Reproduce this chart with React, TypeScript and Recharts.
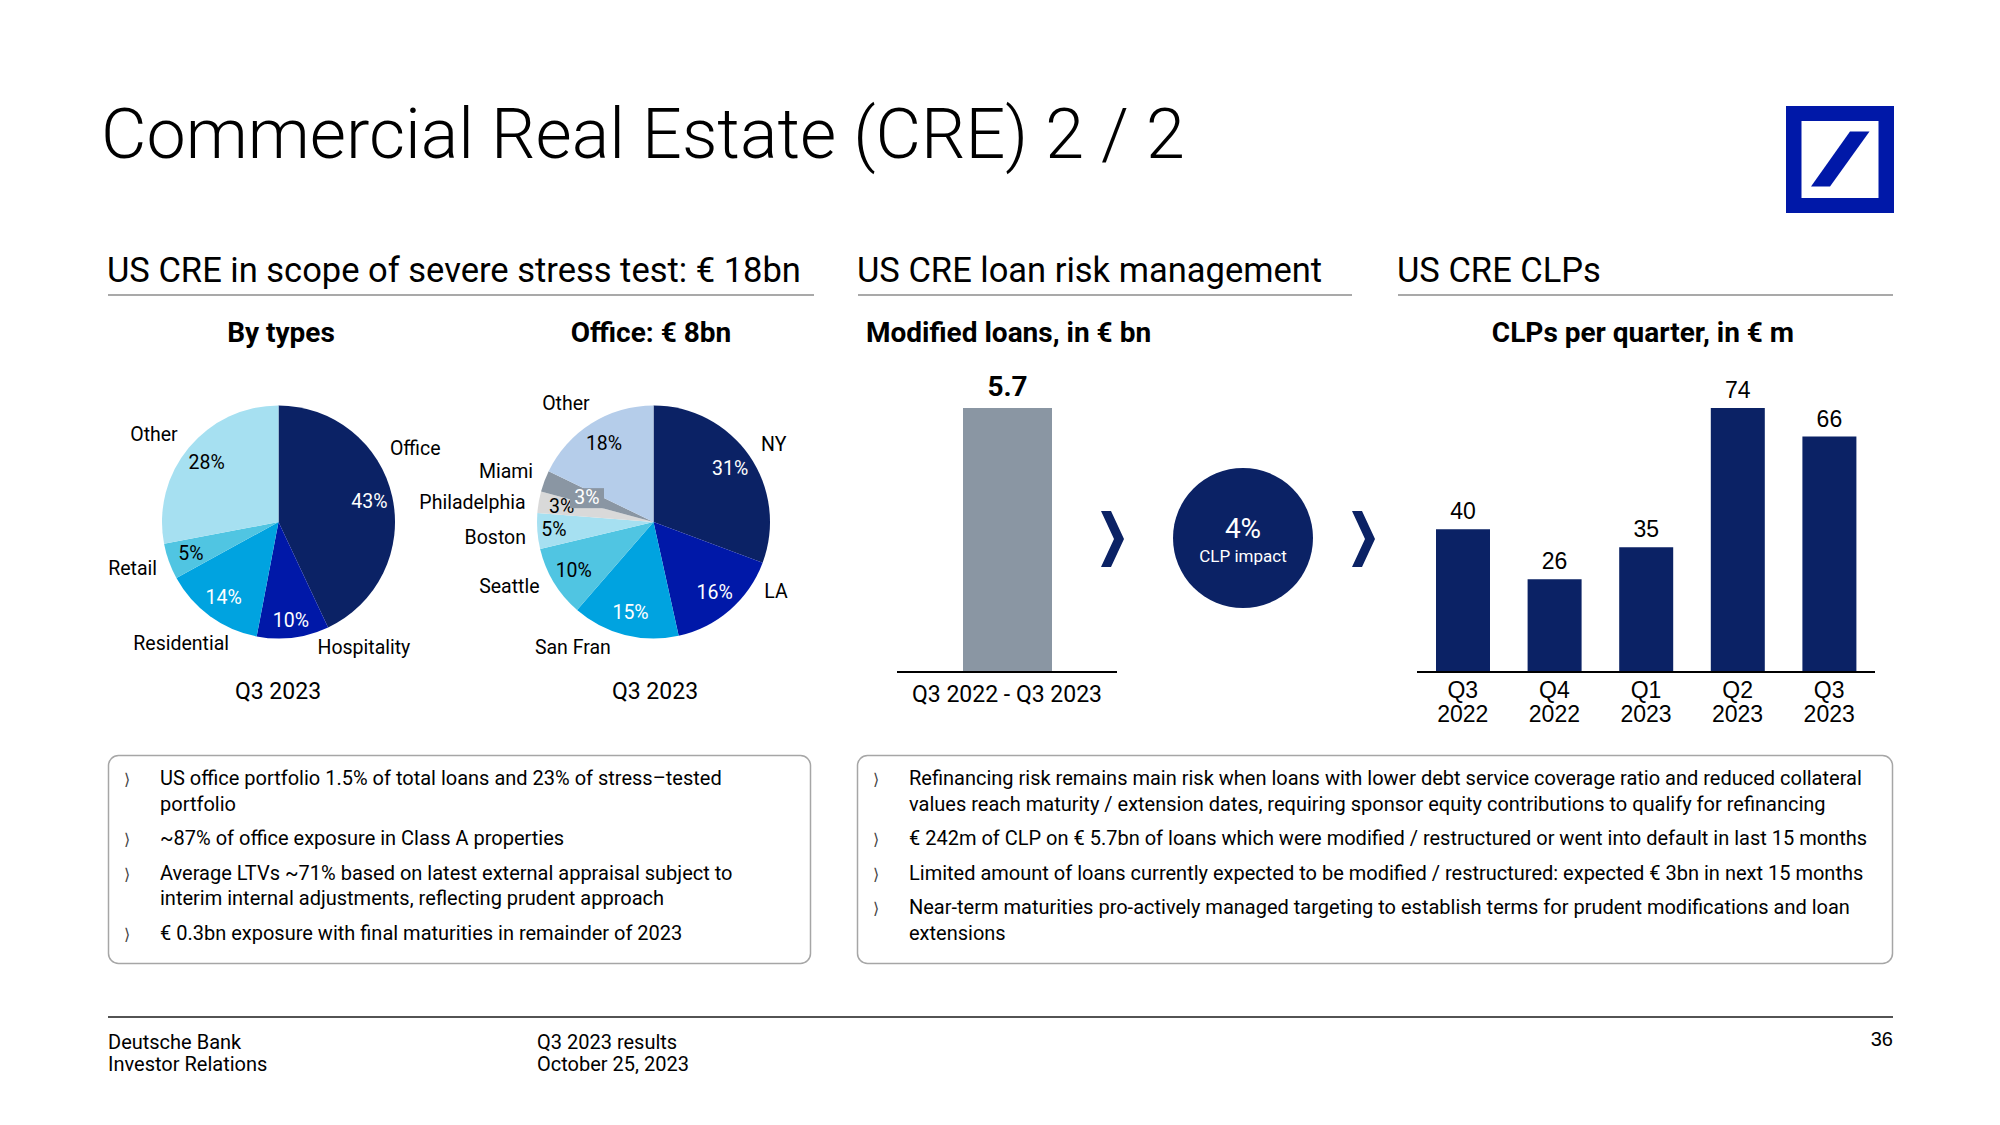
import React from "react";
import { Bar, BarChart, Cell, LabelList, Pie, PieChart, XAxis, YAxis } from "recharts";

const NAVY = "#0b2265";
const ROYAL = "#0018a8";
const SKY = "#00a3e0";
const TEAL = "#50c5e2";
const PALE = "#a6e0f1";
const SLATE = "#8a96a3";
const FONT = "Roboto, 'Noto Sans', sans-serif";
const ARIAL = "'Liberation Sans', Arial, sans-serif";

// US CRE by types, Q3 2023 (share in %)
const typeNames = ["Office", "Hospitality", "Residential", "Retail", "Other"];
const typeShares = [43, 10, 14, 5, 28];
const typeColors = [NAVY, ROYAL, SKY, TEAL, PALE];

// US office by city, Q3 2023 (share in %)
const cityNames = ["NY", "LA", "San Fran", "Seattle", "Boston", "Philadelphia", "Miami", "Other"];
const cityShares = [31, 16, 15, 10, 5, 3, 3, 18];
const cityColors = [NAVY, ROYAL, SKY, TEAL, PALE, "#d9d9d9", SLATE, "#b5cdea"];

// modified loans, in EUR bn
const modifiedPeriods = ["Q3 2022 - Q3 2023"];
const modifiedLoans = [5.7];

// CLPs per quarter, in EUR m
const clpQuarters = ["Q3 2022", "Q4 2022", "Q1 2023", "Q2 2023", "Q3 2023"];
const clpValues = [40, 26, 35, 74, 66];

const leftBullets = [
  ["US office portfolio 1.5% of total loans and 23% of stress\u2013tested", "portfolio"],
  ["~87% of office exposure in Class A properties"],
  ["Average LTVs ~71% based on latest external appraisal subject to", "interim internal adjustments, reflecting prudent approach"],
  ["\u20ac 0.3bn exposure with final maturities in remainder of 2023"],
];
const rightBullets = [
  [
    "Refinancing risk remains main risk when loans with lower debt service coverage ratio and reduced collateral",
    "values reach maturity / extension dates, requiring sponsor equity contributions to qualify for refinancing",
  ],
  ["\u20ac 242m of CLP on \u20ac 5.7bn of loans which were modified / restructured or went into default in last 15 months"],
  ["Limited amount of loans currently expected to be modified / restructured: expected \u20ac 3bn in next 15 months"],
  ["Near-term maturities pro-actively managed targeting to establish terms for prudent modifications and loan", "extensions"],
];

const typeData = typeNames.map((name, i) => ({ name, value: typeShares[i] }));
const cityData = cityNames.map((name, i) => ({ name, value: cityShares[i] }));
const modifiedData = modifiedPeriods.map((period, i) => ({ period, value: modifiedLoans[i] }));
const clpData = clpQuarters.map((quarter, i) => ({ quarter, value: clpValues[i] }));

// label placement tweaks: da = angle shift of the name, r = name radius, pr = percent radius
type Tweak = { da?: number; r?: number; pr?: number; bg?: string };
const typeTweaks: Record<string, Tweak> = {
  Office: { da: -15.5, r: 155 },
  Hospitality: { da: -27, r: 152, pr: 99 },
  Residential: { da: 2.6, r: 156 },
  Retail: { da: 2.3, r: 153 },
  Other: { da: -4.6, r: 152 },
};
const cityTweaks: Record<string, Tweak> = {
  NY: { da: 2, r: 143 },
  LA: { da: -19.3, r: 141 },
  "San Fran": { da: 18.5, r: 149 },
  Seattle: { da: 7, r: 158 },
  Boston: { da: -1.3, r: 159, pr: 100 },
  Philadelphia: { da: -3.8, r: 182 },
  Miami: { da: -1.5, r: 156, pr: 71, bg: SLATE },
  Other: { da: -4.5, r: 147 },
};
const whiteText = new Set(["Office", "Hospitality", "Residential", "NY", "LA", "San Fran", "Miami"]);

const RAD = Math.PI / 180;

const makeLabel = (tweaks: Record<string, Tweak>) => (props: any) => {
  const { cx, cy, midAngle, outerRadius, value } = props;
  const name = props.payload?.name ?? props.name;
  const t = tweaks[name] || {};
  const theta = 90 - midAngle;
  const pr = t.pr ?? outerRadius * 0.8;
  const px = cx + pr * Math.sin(theta * RAD);
  const py = cy - pr * Math.cos(theta * RAD);
  const nr = t.r ?? outerRadius + 36;
  const na = theta + (t.da ?? 0);
  const nx = cx + nr * Math.sin(na * RAD);
  const ny = cy - nr * Math.cos(na * RAD);
  return (
    <g>
      {t.bg && <rect x={px - 17} y={py - 9} width={34} height={20} fill={t.bg} />}
      <text x={px} y={py} textAnchor="middle" dominantBaseline="central" fontFamily={FONT} fontSize={19.5}
        fill={whiteText.has(name) ? "#fff" : "#000"}>
        {value}%
      </text>
      <text x={nx} y={ny} textAnchor="middle" dominantBaseline="central" fontFamily={FONT} fontSize={19.5} fill="#000">
        {name}
      </text>
    </g>
  );
};

const QuarterTick = (props: any) => {
  const { x, y, payload } = props;
  const [q, yr] = String(payload.value).split(" ");
  return (
    <text x={x} y={y} textAnchor="middle" fontFamily={ARIAL} fontSize={23} fill="#000">
      <tspan x={x} dy={18}>{q}</tspan>
      <tspan x={x} dy={24}>{yr}</tspan>
    </text>
  );
};

const Chevron = ({ x, y }: { x: number; y: number }) => (
  <polygon
    points={`${x},${y} ${x + 10},${y} ${x + 23},${y + 28} ${x + 10},${y + 56} ${x},${y + 56} ${x + 13},${y + 28}`}
    fill={NAVY}
  />
);

const Bullets = ({ items, x, y }: { items: string[][]; x: number; y: number }) => {
  const rows: React.ReactNode[] = [];
  let cy = y;
  items.forEach((lines, i) => {
    rows.push(
      <text key={`b${i}`} x={x} y={cy} fontFamily="'DejaVu Sans', sans-serif" fontSize={16} fill="#444">
        {"\u27e9"}
      </text>
    );
    lines.forEach((line, j) => {
      rows.push(
        <text key={`t${i}-${j}`} x={x + 36} y={cy} fontFamily={FONT} fontSize={20} letterSpacing={0} fill="#000">
          {line}
        </text>
      );
      cy += 25.5;
    });
    cy += 9;
  });
  return <g>{rows}</g>;
};

const App = () => {
  return (
    <div style={{ position: "absolute", left: 0, top: 0, width: 2000, height: 1125, background: "#fff", overflow: "hidden" }}>
      <svg width={2000} height={1125} style={{ position: "absolute", left: 0, top: 0 }}>
        <text x={101} y={158} fontFamily={FONT} fontWeight={300} fontSize={70} fill="#000">
          Commercial Real Estate (CRE) 2 / 2
        </text>

        {/* logo */}
        <rect x={1786} y={106} width={108} height={107} fill={ROYAL} />
        <rect x={1801.5} y={121} width={77} height={77} fill="#fff" />
        <polygon points="1850,131.5 1869.5,131.5 1830,186.5 1811,186.5" fill={ROYAL} />

        {/* section headers */}
        <g fontFamily={FONT} fontSize={34.5} fill="#000">
          <text x={107} y={282}>US CRE in scope of severe stress test: {"\u20ac"} 18bn</text>
          <text x={857} y={282}>US CRE loan risk management</text>
          <text x={1397} y={282}>US CRE CLPs</text>
        </g>
        <g stroke="#8c8c8c" strokeWidth={1.5}>
          <line x1={108} y1={295} x2={814} y2={295} />
          <line x1={858} y1={295} x2={1352} y2={295} />
          <line x1={1398} y1={295} x2={1893} y2={295} />
        </g>

        <g fontFamily={FONT} fontSize={28} fontWeight={700} fill="#000">
          <text x={281} y={342} textAnchor="middle">By types</text>
          <text x={651} y={342} textAnchor="middle">Office: {"\u20ac"} 8bn</text>
          <text x={866} y={342}>Modified loans, in {"\u20ac"} bn</text>
          <text x={1643} y={342} textAnchor="middle">CLPs per quarter, in {"\u20ac"} m</text>
        </g>

        <g fontFamily={FONT} fontSize={23} fill="#000">
          <text x={278} y={699} textAnchor="middle">Q3 2023</text>
          <text x={655} y={699} textAnchor="middle">Q3 2023</text>
        </g>

        {/* flow: modified loans -> CLP impact -> CLPs */}
        <Chevron x={1101} y={511} />
        <circle cx={1243} cy={538} r={70} fill={NAVY} />
        <text x={1243} y={538} textAnchor="middle" fontFamily={FONT} fontSize={28} fill="#fff">4%</text>
        <text x={1243} y={562} textAnchor="middle" fontFamily={FONT} fontSize={17} fill="#fff">CLP impact</text>
        <Chevron x={1352} y={511} />

        {/* commentary boxes */}
        <rect x={108.5} y={755.5} width={702} height={208} rx={10} fill="none" stroke="#a6a6a6" strokeWidth={1.5} />
        <rect x={857.5} y={755.5} width={1035} height={208} rx={10} fill="none" stroke="#a6a6a6" strokeWidth={1.5} />
        <Bullets items={leftBullets} x={124} y={785} />
        <Bullets items={rightBullets} x={873} y={785} />

        {/* footer */}
        <line x1={108} y1={1017} x2={1893} y2={1017} stroke="#1a1a1a" strokeWidth={1.5} />
        <g fontFamily={FONT} fontSize={20} fill="#000">
          <text x={108} y={1049}>Deutsche Bank</text>
          <text x={108} y={1071}>Investor Relations</text>
          <text x={537} y={1049}>Q3 2023 results</text>
          <text x={537} y={1071}>October 25, 2023</text>
        </g>
        <text x={1893} y={1046} textAnchor="end" fontFamily={ARIAL} fontSize={20} fill="#000">36</text>
      </svg>

      <div style={{ position: "absolute", left: 80, top: 370 }}>
        <PieChart width={780} height={330} margin={{ top: 0, right: 0, bottom: 0, left: 0 }}>
          <Pie
            data={typeData}
            dataKey="value"
            nameKey="name"
            cx={198.5}
            cy={152}
            outerRadius={116.5}
            startAngle={90}
            endAngle={-270}
            stroke="none"
            labelLine={false}
            label={makeLabel(typeTweaks)}
            isAnimationActive={false}
          >
            {typeData.map((d, i) => (
              <Cell key={d.name} fill={typeColors[i]} />
            ))}
          </Pie>
          <Pie
            data={cityData}
            dataKey="value"
            nameKey="name"
            cx={573.5}
            cy={152}
            outerRadius={116.5}
            startAngle={90}
            endAngle={-270}
            stroke="none"
            labelLine={false}
            label={makeLabel(cityTweaks)}
            isAnimationActive={false}
          >
            {cityData.map((d, i) => (
              <Cell key={d.name} fill={cityColors[i]} />
            ))}
          </Pie>
        </PieChart>
      </div>

      <div style={{ position: "absolute", left: 897, top: 360 }}>
        <BarChart width={220} height={380} data={modifiedData} margin={{ top: 48, right: 0, bottom: 0, left: 0 }}>
          <XAxis
            dataKey="period"
            height={68}
            interval={0}
            tickLine={false}
            tickMargin={8}
            axisLine={{ stroke: "#000", strokeWidth: 2 }}
            tick={{ fontSize: 23, fill: "#000", fontFamily: FONT }}
          />
          <YAxis hide domain={[0, 5.7]} />
          <Bar dataKey="value" fill={SLATE} barSize={89} isAnimationActive={false}>
            <LabelList dataKey="value" position="top" offset={12} fill="#000" fontSize={28} fontWeight={700} fontFamily={FONT} />
          </Bar>
        </BarChart>
      </div>

      <div style={{ position: "absolute", left: 1417, top: 360 }}>
        <BarChart width={458} height={380} data={clpData} margin={{ top: 48, right: 0, bottom: 0, left: 0 }}>
          <XAxis
            dataKey="quarter"
            height={68}
            interval={0}
            tickLine={false}
            axisLine={{ stroke: "#000", strokeWidth: 2 }}
            tick={<QuarterTick />}
          />
          <YAxis hide domain={[0, 74]} />
          <Bar dataKey="value" fill={NAVY} barSize={54} isAnimationActive={false}>
            <LabelList dataKey="value" position="top" offset={10} fill="#000" fontSize={23} fontFamily={ARIAL} />
          </Bar>
        </BarChart>
      </div>
    </div>
  );
};

export default App;
